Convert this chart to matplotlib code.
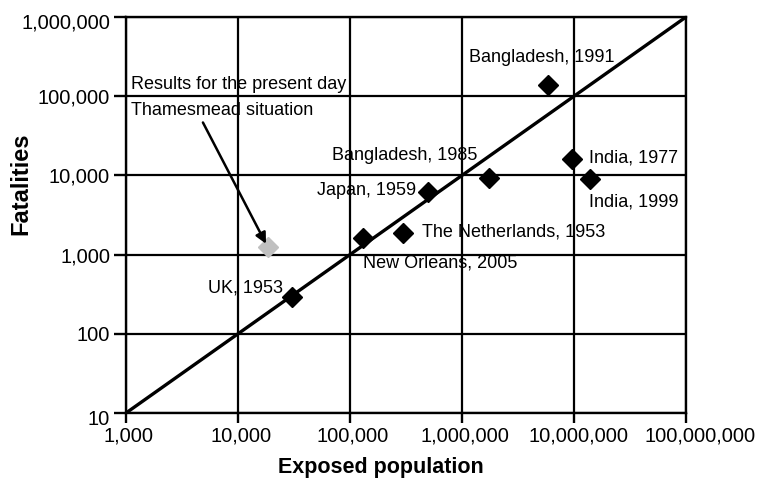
import matplotlib
matplotlib.use("Agg")
import matplotlib.pyplot as plt
from matplotlib.ticker import FixedLocator, FuncFormatter
from matplotlib.transforms import ScaledTranslation

plt.rcParams['font.family'] = ['Liberation Sans', 'DejaVu Sans']

# Data
events = ["UK, 1953", "New Orleans, 2005", "The Netherlands, 1953", "Japan, 1959",
          "Bangladesh, 1985", "India, 1977", "India, 1999", "Bangladesh, 1991"]
exposed = [30300, 130000, 297000, 497000, 1740000, 9600000, 13900000, 5860000]
fatalities = [290, 1600, 1850, 6100, 9200, 16000, 8900, 138000]

thames_label = "Results for the present day\nThamesmead situation"
thames_exposed = 18500
thames_fatalities = 1230

line_x = [1e3, 1e8]
line_y = [10, 1e6]

x_ticks = [1e3, 1e4, 1e5, 1e6, 1e7, 1e8]
y_ticks = [10, 100, 1e3, 1e4, 1e5, 1e6]

# label offsets (points) and alignments
label_style = {
    "UK, 1953": (-6.5, 6.5, "right"),
    "New Orleans, 2005": (0, -18, "left"),
    "The Netherlands, 1953": (13.5, 0.7, "left"),
    "Japan, 1959": (-8.6, 1.4, "right"),
    "Bangladesh, 1985": (-8.6, 16.6, "right"),
    "India, 1977": (12, 0.7, "left"),
    "India, 1999": (-0.7, -16, "left"),
    "Bangladesh, 1991": (-57, 20, "left"),
}

fig = plt.figure(figsize=(7.6, 4.92), dpi=100)
ax = fig.add_axes([126/760, 1-413/492, (686-126)/760, (413-17)/492])
ax.set_xscale('log')
ax.set_yscale('log')
ax.set_xlim(1e3, 1e8)
ax.set_ylim(10, 1e6)

ax.xaxis.set_major_locator(FixedLocator(x_ticks))
ax.yaxis.set_major_locator(FixedLocator(y_ticks))
ax.xaxis.set_minor_locator(FixedLocator([]))
ax.yaxis.set_minor_locator(FixedLocator([]))
fmt = FuncFormatter(lambda v, p: f"{int(round(v)):,}")
ax.xaxis.set_major_formatter(fmt)
ax.yaxis.set_major_formatter(fmt)

ax.grid(True, color='black', linewidth=1.6)
ax.set_axisbelow(True)
for s in ax.spines.values():
    s.set_linewidth(1.7)
ax.tick_params(axis='both', which='major', width=1.7, labelsize=14.5, direction='out')
ax.tick_params(axis='x', length=7, pad=2.5)
ax.tick_params(axis='y', length=9, pad=2.5)

# small label nudges, as in the original layout (points)
x_nudges = [2, 2, 2, 2, 3, 10]
y_nudges = [-3.5, 0, 0, 0, 0, -3]
xt = ax.xaxis.get_major_ticks()
for t, dx in zip(xt, x_nudges):
    t.label1.set_transform(t.label1.get_transform() + ScaledTranslation(dx/72, 0, fig.dpi_scale_trans))
yt = ax.yaxis.get_major_ticks()
for t, dy in zip(yt, y_nudges):
    t.label1.set_transform(t.label1.get_transform() + ScaledTranslation(0, dy/72, fig.dpi_scale_trans))

ax.plot(line_x, line_y, color='black', linewidth=2.4, zorder=3, solid_capstyle='butt')

ax.plot(exposed, fatalities, linestyle='none', marker='D', markersize=10.5,
        color='black', zorder=4)
ax.plot([thames_exposed], [thames_fatalities], linestyle='none', marker='D',
        markersize=10.5, color='#c0c0c0', zorder=4)

for name, xv, yv in zip(events, exposed, fatalities):
    dx, dy, ha = label_style[name]
    ax.annotate(name, (xv, yv), xytext=(dx, dy), textcoords='offset points',
                ha=ha, va='center', fontsize=13, zorder=5)

ax.annotate(thames_label, (thames_exposed, thames_fatalities), xytext=(-98.6, 108),
            textcoords='offset points', ha='left', va='center', fontsize=13,
            linespacing=1.62, zorder=5)
ax.annotate("", (thames_exposed, thames_fatalities), xytext=(-46.8, 90),
            textcoords='offset points',
            arrowprops=dict(arrowstyle='-|>', color='black', lw=1.8,
                            mutation_scale=16, shrinkA=0, shrinkB=3), zorder=5)

ax.set_xlabel("Exposed population", fontsize=15.5, fontweight='bold')
ax.xaxis.set_label_coords(0.455, -0.11)
ax.set_ylabel("Fatalities", fontsize=17, fontweight='bold', va='center', ha='center')
ax.yaxis.set_label_coords((20.5-126)/560, (413-183.5)/396)

fig.savefig("out.png", dpi=100)
